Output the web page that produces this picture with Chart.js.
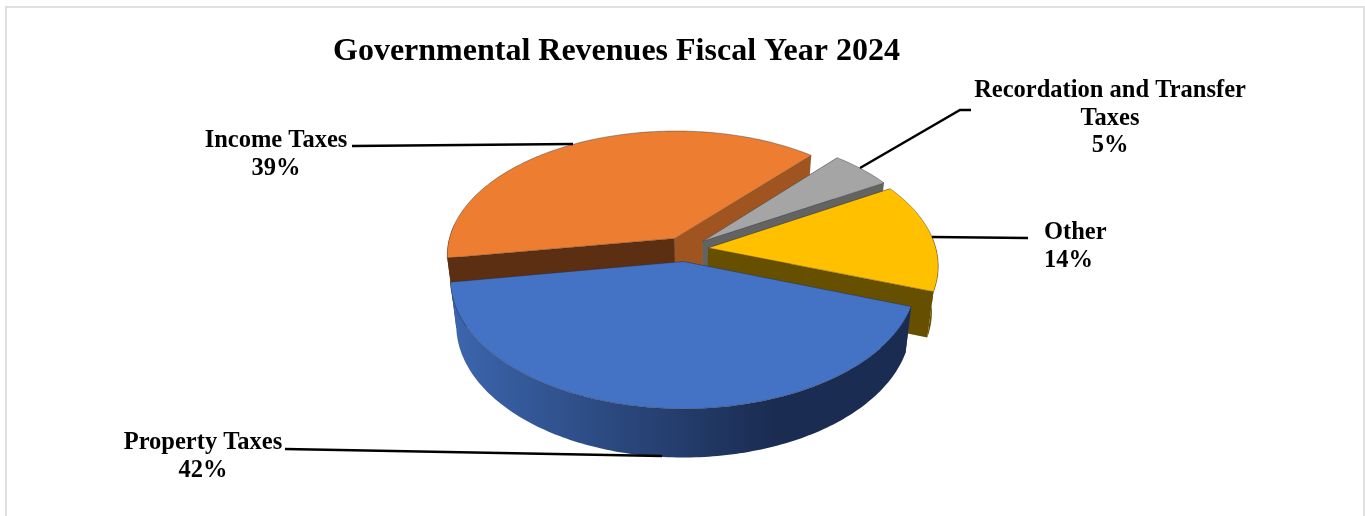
<!DOCTYPE html>
<html>
<head>
<meta charset="utf-8">
<title>Governmental Revenues Fiscal Year 2024</title>
<script src="https://cdn.jsdelivr.net/npm/chart.js@4"></script>
<style>
    html, body { margin: 0; padding: 0; background: #fff; overflow: hidden; }
    #wrap { position: relative; width: 1365px; height: 516px; }
    #frame { position: absolute; left: 5px; top: 6px; width: 1356px; height: 530px; border: 2px solid #dfdfdf; }
    #revenueChart { position: absolute; left: 0; top: 0; }
</style>
</head>
<body>
<div id="wrap">
    <div id="frame"></div>
    <canvas id="revenueChart" width="1365" height="516"></canvas>
</div>
<script>
const chartTitle = 'Governmental Revenues Fiscal Year 2024';
const categories = ['Property Taxes', 'Income Taxes', 'Recordation and Transfer Taxes', 'Other'];
const shares = [42, 39, 5, 14];

const topColors = ['#4472C4', '#ED7D31', '#A5A5A5', '#FFC000'];
const rimShades = [['#3c66ae', '#1a2c51'], ['#5c2f12', '#5c2f12'], ['#636363', '#636363'], ['#665000', '#665000']];
const startFaceColors = ['#2a4476', '#5c2f12', '#7c7c7c', '#665000'];
const endFaceColors = ['#2a4476', '#a0541f', '#636363', '#665000'];

// how the disc is tilted: vertical squash, perspective strength, slab height, taper of the underside
const TILT = 0.545;
const PERSPECTIVE = 0.00058;
const SLAB = 45;
const TAPER = 0.975;

// text lines and leader lines around the pie
const callouts = [
    { lines: ['Property Taxes', '42%'], x: 203, y: 449, leader: [[285, 449], [662, 456]] },
    { lines: ['Income Taxes', '39%'], x: 276, y: 147, leader: [[352, 146], [573, 144]] },
    { lines: ['Recordation and Transfer', 'Taxes', '5%'], x: 1110, y: 97, leader: [[860, 168], [960, 110], [971, 110]] },
    { lines: ['Other', '14%'], x: 1044, y: 239, align: 'left', leader: [[932, 237], [1028, 238]] }
];

function project(cx, cy, u, v, lower) {
    const s = 1 / (1 - PERSPECTIVE * v);
    let x = cx + u * s;
    let y = cy + v * TILT * s;
    if (lower) {
        x = cx + (x - cx) * TAPER;
        y = cy + (y - cy) * TAPER + SLAB * s;
    }
    return [x, y];
}

function fillPath(ctx, points, fill, stroke) {
    ctx.beginPath();
    points.forEach((p, i) => (i ? ctx.lineTo(p[0], p[1]) : ctx.moveTo(p[0], p[1])));
    ctx.closePath();
    ctx.fillStyle = fill;
    ctx.fill();
    if (stroke) {
        ctx.strokeStyle = stroke;
        ctx.lineWidth = 0.7;
        ctx.stroke();
    }
}

// Draws each arc element of the pie as a tilted slab, back slices first
const tiltedPie = {
    id: 'tiltedPie',
    beforeDatasetDraw(chart, args) {
        const ctx = chart.ctx;
        const order = args.meta.data.map((arc, index) => {
            const p = arc.getProps(['x', 'y', 'startAngle', 'endAngle', 'outerRadius']);
            const mid = (p.startAngle + p.endAngle) / 2;
            const off = arc.options.offset;
            return { arc, index, p, apexU: Math.cos(mid) * off, apexV: Math.sin(mid) * off };
        }).sort((a, b) => a.apexV - b.apexV);

        order.forEach(({ arc, index, p, apexU, apexV }) => {
            const rim = [];
            const steps = Math.ceil((p.endAngle - p.startAngle) / (Math.PI / 180));
            for (let i = 0; i <= steps; i++) {
                const a = p.startAngle + (p.endAngle - p.startAngle) * i / steps;
                rim.push({ a, u: apexU + Math.cos(a) * p.outerRadius, v: apexV + Math.sin(a) * p.outerRadius });
            }
            const up = (q) => project(p.x, p.y, q.u, q.v, false);
            const down = (q) => project(p.x, p.y, q.u, q.v, true);
            const apex = { u: apexU, v: apexV };
            const first = rim[0];
            const last = rim[rim.length - 1];

            // cut faces
            fillPath(ctx, [up(apex), up(first), down(first), down(apex)], startFaceColors[index]);
            fillPath(ctx, [up(apex), up(last), down(last), down(apex)], endFaceColors[index]);

            // outer wall, only the part turned towards the viewer
            const front = rim.filter((q) => Math.sin(q.a) > -0.12);
            if (front.length > 1) {
                const xs = front.map((q) => up(q)[0]);
                const left = Math.min(...xs);
                const right = Math.max(...xs);
                const shade = ctx.createLinearGradient(left, 0, left + (right - left) * 0.7, 0);
                shade.addColorStop(0, rimShades[index][0]);
                shade.addColorStop(1, rimShades[index][1]);
                fillPath(ctx, front.map(up).concat(front.slice().reverse().map(down)), shade);
            }

            // top surface
            fillPath(ctx, [up(apex)].concat(rim.map(up)), arc.options.backgroundColor, 'rgba(40,40,40,0.55)');
        });
        return false;
    }
};

const annotations = {
    id: 'annotations',
    afterDraw(chart) {
        const ctx = chart.ctx;
        ctx.save();
        ctx.fillStyle = '#000';
        ctx.textBaseline = 'alphabetic';
        ctx.font = 'bold 32px "Liberation Serif"';
        ctx.textAlign = 'left';
        ctx.fillText(chartTitle, 333, 60);

        ctx.font = 'bold 24.5px "Liberation Serif"';
        callouts.forEach((c) => {
            ctx.textAlign = c.align || 'center';
            c.lines.forEach((line, i) => ctx.fillText(line, c.x, c.y + i * 27.5));
            ctx.beginPath();
            c.leader.forEach((p, i) => (i ? ctx.lineTo(p[0], p[1]) : ctx.moveTo(p[0], p[1])));
            ctx.strokeStyle = '#000';
            ctx.lineWidth = 2.4;
            ctx.stroke();
        });
        ctx.restore();
    }
};

new Chart(document.getElementById('revenueChart'), {
    type: 'pie',
    data: {
        labels: categories,
        datasets: [{
            data: shares,
            backgroundColor: topColors,
            borderWidth: 0,
            offset: 22.6,
            radius: 228,
            rotation: 109.7
        }]
    },
    options: {
        responsive: false,
        animation: false,
        events: [],
        layout: { padding: { left: 6.2, right: 0, top: 0, bottom: 17.8 } },
        plugins: {
            legend: { display: false },
            title: { display: false },
            tooltip: { enabled: false }
        }
    },
    plugins: [tiltedPie, annotations]
});
</script>
</body>
</html>
